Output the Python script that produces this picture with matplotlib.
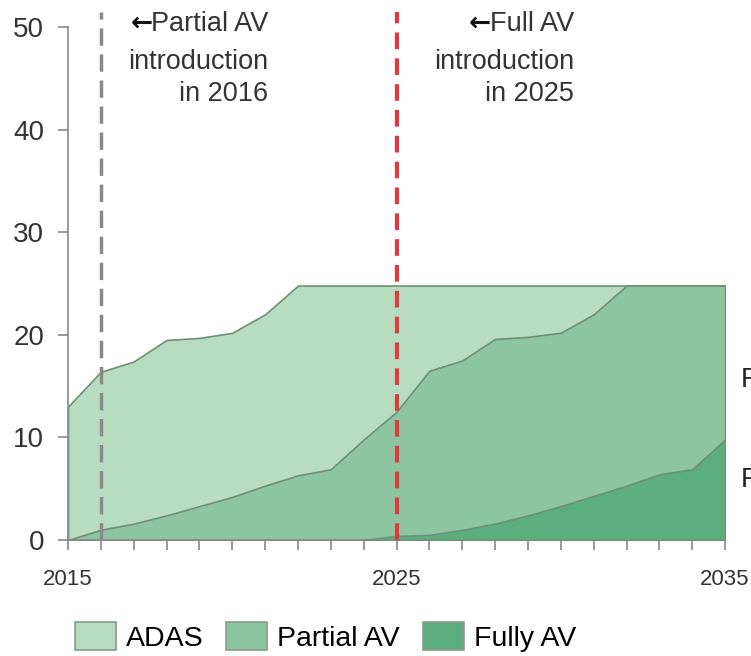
import numpy as np
import matplotlib.pyplot as plt
from matplotlib.patches import Patch

plt.rcParams['font.family'] = ['Liberation Sans', 'DejaVu Sans']

# data
years = np.arange(2015, 2036)
adas = [13.0, 16.4, 17.4, 19.5, 19.7, 20.2, 22.0, 24.8, 24.8, 24.8, 24.8,
        24.8, 24.8, 24.8, 24.8, 24.8, 24.8, 24.8, 24.8, 24.8, 24.8]
partial = [0.0, 1.0, 1.6, 2.4, 3.3, 4.2, 5.3, 6.3, 6.9, 9.8, 12.5,
           16.5, 17.5, 19.6, 19.8, 20.2, 22.0, 24.8, 24.8, 24.8, 24.8]
fully = [0.0, 0.0, 0.0, 0.0, 0.0, 0.0, 0.0, 0.0, 0.0, 0.0, 0.4,
         0.5, 1.0, 1.6, 2.4, 3.3, 4.3, 5.3, 6.4, 6.9, 9.8]
fully_start = 2024

names = ['ADAS', 'Partial AV', 'Fully AV']
colors = ['#b8dcbf', '#8cc59f', '#5cae7e']
edge = '#6f8f78'

fig = plt.figure(figsize=(7.51, 6.56), dpi=100)
ax = fig.add_axes([0.0905, 0.1768, 0.875, 0.782])

ax.fill_between(years, 0, adas, facecolor=colors[0], edgecolor=edge, lw=1.2, zorder=1)
ax.fill_between(years, 0, partial, facecolor=colors[1], edgecolor=edge, lw=1.2, zorder=2)
m = years >= fully_start
ax.fill_between(years[m], 0, np.array(fully)[m], facecolor=colors[2], edgecolor=edge, lw=1.2, zorder=3)

# introduction markers
ax.plot([2016, 2016], [0, 51.5], color='#8a8a8a', lw=2.5, ls=(0, (5, 2.5)), clip_on=False, zorder=4)
ax.plot([2025, 2025], [0, 51.5], color='#e03a3e', lw=3, ls=(0, (4, 2.2)), clip_on=False, zorder=4)

ax.set_xlim(2015, 2035)
ax.set_ylim(0, 50)
ax.set_xticks(years)
ax.set_xticklabels([str(y) if y in (2015, 2025, 2035) else '' for y in years])
ax.set_yticks(range(0, 51, 10))
ax.tick_params(axis='x', direction='out', length=7, width=1.2, color='#888888',
               labelsize=16, labelcolor='#333333', pad=14)
ax.tick_params(axis='y', direction='out', length=7, width=1.2, color='#888888',
               labelsize=20, labelcolor='#333333', pad=10)
for s in ['top', 'right']:
    ax.spines[s].set_visible(False)
for s in ['left', 'bottom']:
    ax.spines[s].set_color('#888888')
    ax.spines[s].set_linewidth(1.2)

# cut-off labels at right edge
fig.text(741 / 751, 1 - 380 / 656, 'Partial AV', fontsize=20, color='#222222', va='center')
fig.text(741 / 751, 1 - 480 / 656, 'Fully AV', fontsize=20, color='#222222', va='center')

handles = [Patch(facecolor=c, edgecolor='#8a9a8e', lw=1.2, label=n) for c, n in zip(colors, names)]
fig.legend(handles=handles, loc='center left', bbox_to_anchor=(75 / 751, 1 - 637 / 656), ncol=3,
           frameon=False, fontsize=20.5,
           handlelength=1.44, handleheight=1.12, handletextpad=0.35, columnspacing=0.8,
           borderaxespad=0, borderpad=0)

# annotations: first line drawn apart so the bold arrow can sit in front of it
notes = [(2021.1, 'Partial AV', 'introduction\nin 2016'),
         (2030.4, 'Full AV', 'introduction\nin 2025')]
heads = []
for x, head, rest in notes:
    t = ax.text(x, 51.6, head, ha='right', va='top', fontsize=19.5, color='#333333')
    ax.text(x, 47.9, rest, ha='right', va='top', fontsize=19.5, color='#333333', linespacing=1.3)
    heads.append(t)
fig.canvas.draw()
r = fig.canvas.get_renderer()
for t in heads:
    bb = t.get_window_extent(r)
    fig.text(bb.x0 / fig.bbox.width + 0.002, (bb.y0 + bb.y1) / 2 / fig.bbox.height, '\u2190',
             ha='right', va='center', fontsize=19, family='DejaVu Sans', weight='bold', color='#111111')

fig.savefig('out.png', dpi=100)
